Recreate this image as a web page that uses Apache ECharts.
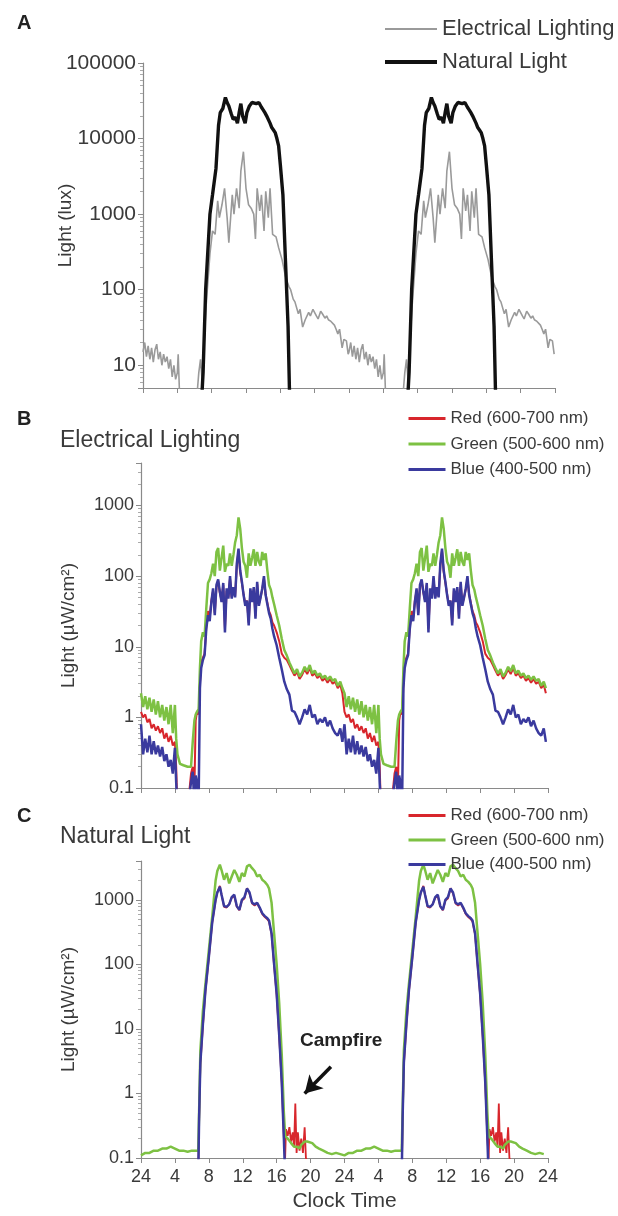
<!DOCTYPE html>
<html>
<head>
<meta charset="utf-8">
<script src="https://cdn.jsdelivr.net/npm/echarts@6/dist/echarts.min.js"></script>
<style>
  html, body { margin: 0; padding: 0; background: #fff; }
  #chart { width: 618px; height: 1216px; }
</style>
</head>
<body>
<div id="chart"></div>
<script>
// one day of readings, double plotted (24 -> 24 -> 24)
const tickLabels = ['24', '4', '8', '12', '16', '20', '24', '4', '8', '12', '16', '20', '24']

// panel A (lux)
const elecHours = [0, 0.2, 0.4, 0.6, 0.8, 1.0, 1.2, 1.4, 1.6, 1.8, 2.0, 2.2, 2.4, 2.6, 2.8, 3.0, 3.2, 3.4, 3.6, 3.8, 4.0, 4.1, 4.3,
  6.2, 6.5, 6.7, 6.9, 7.3, 7.8, 8.1, 8.4, 8.7, 8.9, 9.2, 9.5, 9.8, 10.0, 10.4, 10.6, 10.9, 11.2, 11.4, 11.7, 12.0, 12.3, 12.6, 12.9,
  13.1, 13.3, 13.6, 13.8, 14.1, 14.3, 14.6, 14.8, 15.1, 15.5, 15.8, 16.2, 16.6, 17.0, 17.2, 17.5, 17.7, 18.1, 18.3, 18.6, 18.9,
  19.1, 19.3, 19.5, 19.8, 20.0, 20.2, 20.4, 20.7, 20.9, 21.2, 21.4, 21.6, 21.9, 22.1, 22.3, 22.5, 22.7, 22.9, 23.2, 23.4, 23.7, 23.9]
const elecLux = [15, 20, 13, 18, 12, 17, 11, 16, 19, 12, 15, 10, 14, 11, 13, 9, 12, 7, 10, 6.5, 8, 14, 3,
  3, 8, 12, 6, 50, 300, 600, 540, 1500, 900, 1330, 2200, 900, 420, 1800, 1000, 2200, 1200, 3700, 6700, 2200, 1330, 1200, 1000,
  470, 2200, 1100, 1800, 600, 2000, 900, 2200, 540, 500, 360, 250, 150, 110, 100, 75, 69, 48, 55, 32, 40,
  39, 50, 45, 55, 53, 45, 41, 52, 48, 42, 45, 40, 38, 40, 34, 30, 26, 30, 17, 22, 21, 14]

const naturalHours = [6.8, 7.0, 7.3, 7.8, 8.1, 8.5, 8.8, 9.0, 9.3, 9.6, 9.8, 10.0, 10.3, 10.5, 10.8, 11.0, 11.2, 11.4, 11.6, 11.9,
  12.1, 12.4, 12.7, 12.9, 13.2, 13.5, 13.8, 14.0, 14.2, 14.4, 14.6, 14.8, 15.0, 15.2, 15.4, 15.6, 15.8, 16.0, 16.3, 16.6, 16.9, 17.1]
const naturalLux = [3, 8, 100, 1000, 1800, 4000, 15000, 22000, 25000, 35000, 30000, 27000, 21000, 18000, 19000, 16000, 22000, 29000, 20000, 16000,
  22000, 27000, 30000, 31000, 29000, 30000, 26000, 24000, 22000, 20000, 19000, 16000, 14000, 13000, 12000, 10000, 8000, 4500, 1800, 240, 33, 3]

// panel B (electrical lighting, uW/cm2)
const hoursB = [0, 0.25, 0.5, 0.75, 1, 1.25, 1.5, 1.75, 2, 2.25, 2.5, 2.75, 3, 3.25, 3.5, 3.75, 4, 4.15, 4.3, 4.6, 5, 5.5, 5.9, 6.1,
  6.3, 6.45, 6.6, 6.8, 6.95, 7.1, 7.3, 7.5, 7.7, 7.9, 8.1, 8.3, 8.5, 8.7, 8.9, 9.1, 9.3, 9.5, 9.7, 9.9, 10.1, 10.3, 10.5, 10.7,
  10.9, 11.1, 11.3, 11.5, 11.7, 11.9, 12.1, 12.3, 12.5, 12.7, 12.9, 13.1, 13.3, 13.5, 13.7, 13.9, 14.1, 14.3, 14.5, 14.7, 14.9,
  15.1, 15.3, 15.5, 15.7, 16.0, 16.3, 16.6, 16.9, 17.2, 17.5, 17.8, 18.1, 18.4, 18.7, 19.0, 19.3, 19.6, 19.9, 20.2, 20.5, 20.8,
  21.1, 21.4, 21.7, 22.0, 22.3, 22.6, 22.9, 23.2, 23.5, 23.75]
const greenB = [2.2, 1.4, 2.0, 1.3, 1.9, 1.2, 1.8, 1.1, 1.7, 1.0, 1.5, 0.9, 1.4, 0.8, 1.5, 0.6, 1.5, 0.5, 0.3, 0.22, 0.21, 0.2, 0.2, 0.45,
  0.9, 1.1, 1.2, 1.3, 5, 12, 16, 14, 35, 80, 90, 110, 150, 100, 220, 250, 120, 180, 270, 115, 150, 140, 210, 140,
  200, 300, 380, 680, 470, 250, 160, 140, 95, 210, 140, 180, 240, 140, 220, 160, 140, 220, 170, 210, 120,
  75, 65, 50, 40, 28, 20, 13, 9, 7.5, 6, 5, 4.2, 4.8, 3.8, 4.3, 5.2, 4.5, 5.5, 4.2, 4.6, 3.9,
  4.2, 3.6, 3.9, 3.4, 3.8, 3.3, 3.5, 2.8, 3.2, 2.6]
const redB = [1.2, 1.0, 1.1, 0.85, 0.95, 0.7, 0.8, 0.65, 0.75, 0.6, 0.7, 0.5, 0.6, 0.45, 0.55, 0.4, 0.45, 0.2, 0.05, 0.05, 0.05, 0.05, 0.16, 0.2,
  0.1, 0.9, 1.2, 1.1, 3, 6, 7, 8, 19, 32, 26, 45, 62, 30, 70, 85, 58, 45, 75, 18, 62, 50, 92, 50,
  68, 52, 140, 230, 115, 80, 55, 40, 45, 22, 62, 44, 66, 27, 78, 40, 50, 65, 92, 55, 42,
  32, 28, 22, 20, 16, 12, 8, 7, 6.5, 5.5, 4.6, 3.9, 4.4, 3.5, 4.0, 4.8, 4.1, 5.0, 3.9, 4.2, 3.6,
  3.9, 3.3, 3.6, 3.1, 3.5, 3.0, 3.2, 2.6, 2.9, 2.2]
const blueB = [0.8, 0.3, 0.5, 0.32, 0.55, 0.3, 0.46, 0.3, 0.4, 0.28, 0.38, 0.24, 0.3, 0.2, 0.25, 0.16, 0.37, 0.12, 0.05, 0.05, 0.05, 0.05, 0.12, 0.17,
  0.06, 0.15, 0.12, 0.07, 2.6, 5, 6.5, 7.6, 18, 28, 23, 43, 67, 28, 75, 90, 60, 43, 80, 16, 67, 48, 100, 48,
  70, 50, 150, 245, 120, 83, 54, 38, 45, 20, 67, 43, 70, 25, 83, 38, 50, 67, 100, 54, 40,
  30, 25, 18, 14, 10.5, 7, 4.8, 3.2, 2.5, 2.1, 1.25, 1.2, 1.0, 0.8, 1.0, 1.3, 1.1, 1.5, 1.0, 1.1, 0.8,
  0.95, 0.85, 1.0, 0.75, 0.9, 0.7, 0.6, 0.55, 0.7, 0.45]

// panel C (natural light, uW/cm2)
const hoursC = [0, 0.5, 1, 1.5, 2, 2.5, 3, 3.5, 4, 4.5, 5, 5.5, 6, 6.5, 6.75, 6.85, 7.0, 7.3, 7.6, 8.0, 8.4, 8.8, 9.0, 9.3, 9.5,
  9.8, 10.1, 10.4, 10.7, 11.0, 11.3, 11.6, 11.9, 12.2, 12.5, 12.8, 13.1, 13.4, 13.7, 14.0, 14.3, 14.6, 14.9, 15.1, 15.4, 15.7,
  16.0, 16.3, 16.6, 16.85, 17.0, 17.1, 17.3, 17.5, 17.7, 17.9, 18.05, 18.2, 18.35, 18.5, 18.7, 18.9, 19.1, 19.3, 19.45, 19.6,
  19.8, 20.2, 20.6, 21.0, 21.5, 22.0, 22.5, 23.0, 23.5]
const greenC = [0.11, 0.12, 0.12, 0.13, 0.13, 0.14, 0.14, 0.15, 0.14, 0.13, 0.13, 0.125, 0.13, 0.13, 0.13, 0.5, 4.6, 19, 50, 165, 550, 2000, 2800, 3500, 2900,
  2050, 2600, 1800, 2300, 2900, 2450, 1900, 2600, 2300, 3300, 3500, 3100, 2800, 2300, 2450, 2050, 1900, 1700, 1500, 900, 300,
  100, 25, 4, 0.5, 0.22, 0.23, 0.2, 0.19, 0.17, 0.16, 0.15, 0.16, 0.15, 0.15, 0.14, 0.16, 0.17, 0.18, 0.18, 0.18,
  0.18, 0.17, 0.15, 0.14, 0.13, 0.12, 0.115, 0.12, 0.115]
const redC = [0.05, 0.05, 0.05, 0.05, 0.05, 0.05, 0.05, 0.05, 0.05, 0.05, 0.05, 0.05, 0.05, 0.05, 0.05, 0.35, 2.8, 11, 38, 125, 440, 980, 1300, 1650, 1200,
  780, 760, 860, 1080, 1150, 780, 690, 980, 1050, 1520, 1250, 880, 820, 880, 740, 600, 540, 500, 460, 290, 95,
  33, 7.5, 1.4, 0.2, 0.1, 0.28, 0.22, 0.3, 0.18, 0.25, 0.15, 0.7, 0.12, 0.25, 0.13, 0.2, 0.12, 0.3, 0.1, 0.09,
  0.06, 0.05, 0.05, 0.05, 0.05, 0.05, 0.05, 0.05, 0.05]
const blueC = [0.05, 0.05, 0.05, 0.05, 0.05, 0.05, 0.05, 0.05, 0.05, 0.05, 0.05, 0.05, 0.05, 0.05, 0.05, 0.4, 3, 12, 40, 130, 450, 1000, 1300, 1600, 1200,
  800, 780, 850, 1100, 1200, 800, 700, 1000, 1100, 1500, 1300, 900, 850, 900, 760, 620, 560, 520, 480, 300, 100,
  35, 8, 1.5, 0.2, 0.05, 0.05, 0.05, 0.05, 0.05, 0.05, 0.05, 0.05, 0.05, 0.05, 0.05, 0.05, 0.05, 0.05, 0.05, 0.05,
  0.05, 0.05, 0.05, 0.05, 0.05, 0.05, 0.05, 0.05, 0.05]

function twoDays(hours, vals) {
  const out = []
  ;[0, 24].forEach(function (off) {
    hours.forEach(function (h, i) { out.push([h + off, vals[i]]) })
  })
  return out
}

function powLabel(v) {
  const l = Math.log10(v)
  const p = Math.round(l)
  if (Math.abs(l - p) > 1e-6) return ''
  return p < 0 ? Math.pow(10, p).toFixed(-p) : String(Math.pow(10, p))
}

const txt = '#3a3a3a'
const axisCol = '#8a8a8a'
const FONT = 'Liberation Sans'
const RED = '#d8262c'
const GREEN = '#7dc143'
const BLUE = '#3a3a9e'

function xAxis(grid, showLabels) {
  return {
    type: 'value', gridIndex: grid, min: 0, max: 48, interval: 4,
    axisLine: { lineStyle: { color: axisCol, width: 1.2 } },
    axisTick: { length: 5, lineStyle: { color: axisCol } },
    splitLine: { show: false },
    axisLabel: {
      show: showLabels, margin: 10, fontSize: 18, color: txt, fontFamily: FONT,
      formatter: function (v) { return tickLabels[v / 4] }
    },
    name: showLabels ? 'Clock Time' : '',
    nameLocation: 'middle', nameGap: 33,
    nameTextStyle: { fontSize: 21, color: txt, fontFamily: FONT }
  }
}

function yAxis(grid, min, max, name, fs, gap) {
  return {
    type: 'log', logBase: 10, gridIndex: grid, min: min, max: max,
    axisLine: { show: true, lineStyle: { color: axisCol, width: 1.2 } },
    axisTick: { length: 5, lineStyle: { color: axisCol } },
    minorTick: { show: true, splitNumber: 9, length: 3, lineStyle: { color: '#aaa' } },
    splitLine: { show: false },
    axisLabel: { margin: 7, fontSize: fs, color: txt, fontFamily: FONT, formatter: powLabel },
    name: name, nameLocation: 'middle', nameGap: gap, nameMoveOverlap: false,
    nameTextStyle: { fontSize: 19, color: txt, fontFamily: FONT }
  }
}

function lineSeries(name, x, y, data, color, width, z) {
  return {
    name: name, type: 'line', xAxisIndex: x, yAxisIndex: y, data: data,
    symbol: 'none', clip: true, z: z,
    lineStyle: { color: color, width: width }, itemStyle: { color: color }
  }
}

const redName = 'Red (600-700 nm)'
const greenName = 'Green (500-600 nm)'
const blueName = 'Blue (400-500 nm)'

const campfire = lineSeries(redName, 2, 2, twoDays(hoursC, redC), RED, 1.8, 2)
campfire.markLine = {
  silent: true, symbol: ['none', 'arrow'], symbolSize: [15, 17],
  label: { show: false },
  lineStyle: { color: '#111', width: 3.5, type: 'solid' },
  data: [[{ coord: [22.4, 2.6] }, { coord: [19.3, 1.0] }]]
}

const letter = { fontSize: 20, fontWeight: 'bold', color: '#222', fontFamily: FONT }
const panelTitle = { fontSize: 23, fontWeight: 'normal', color: txt, fontFamily: FONT }

function rgbLegend(top, gap) {
  return {
    orient: 'vertical', left: 407, top: top, padding: 0, itemWidth: 37, itemHeight: 14, itemGap: gap,
    itemStyle: { opacity: 0 },
    textStyle: { fontSize: 17, color: txt, fontFamily: FONT },
    data: [
      { name: redName, lineStyle: { width: 3 } },
      { name: greenName, lineStyle: { width: 3 } },
      { name: blueName, lineStyle: { width: 3 } }
    ]
  }
}

const option = {
  animation: false,
  backgroundColor: '#fff',
  title: [
    { text: 'A', left: 12, top: 8, textStyle: letter },
    { text: 'B', left: 12, top: 404, textStyle: letter },
    { text: 'Electrical Lighting', left: 55, top: 424, textStyle: panelTitle },
    { text: 'C', left: 12, top: 801, textStyle: letter },
    { text: 'Natural Light', left: 55, top: 820, textStyle: panelTitle }
  ],
  graphic: [
    { type: 'text', left: 300, top: 1031, style: { text: 'Campfire', fontSize: 19, fontWeight: 'bold', fill: '#222', fontFamily: FONT } }
  ],
  legend: [
    {
      orient: 'vertical', left: 383, top: 18, padding: 0, itemWidth: 52, itemHeight: 14, itemGap: 11,
      itemStyle: { opacity: 0 },
      textStyle: { fontSize: 22, color: txt, fontFamily: FONT },
      data: [
        { name: 'Electrical Lighting', lineStyle: { width: 2 } },
        { name: 'Natural Light', lineStyle: { width: 4 } }
      ]
    },
    rgbLegend(410, 8.5),
    rgbLegend(807, 7.5)
  ],
  grid: [
    { left: 143, right: 63, top: 63, bottom: 828 },
    { left: 141, right: 70, top: 463, bottom: 428 },
    { left: 141, right: 70, top: 861, bottom: 58 }
  ],
  xAxis: [xAxis(0, false), xAxis(1, false), xAxis(2, true)],
  yAxis: [
    yAxis(0, 5, 100000, 'Light (lux)', 21, 68),
    yAxis(1, 0.1, 4000, 'Light (\u00b5W/cm\u00b2)', 18, 63),
    yAxis(2, 0.1, 4000, 'Light (\u00b5W/cm\u00b2)', 18, 63)
  ],
  series: [
    lineSeries('Electrical Lighting', 0, 0, twoDays(elecHours, elecLux), '#9a9a9a', 1.6, 2),
    lineSeries('Natural Light', 0, 0, twoDays(naturalHours, naturalLux), '#111', 3.4, 3),
    lineSeries(redName, 1, 1, twoDays(hoursB, redB), RED, 2, 2),
    lineSeries(greenName, 1, 1, twoDays(hoursB, greenB), GREEN, 2.5, 3),
    lineSeries(blueName, 1, 1, twoDays(hoursB, blueB), BLUE, 2.5, 4),
    campfire,
    lineSeries(greenName, 2, 2, twoDays(hoursC, greenC), GREEN, 2.5, 3),
    lineSeries(blueName, 2, 2, twoDays(hoursC, blueC), BLUE, 2.5, 4)
  ]
}

const chart = echarts.init(document.getElementById('chart'))
chart.setOption(option)
</script>
</body>
</html>
